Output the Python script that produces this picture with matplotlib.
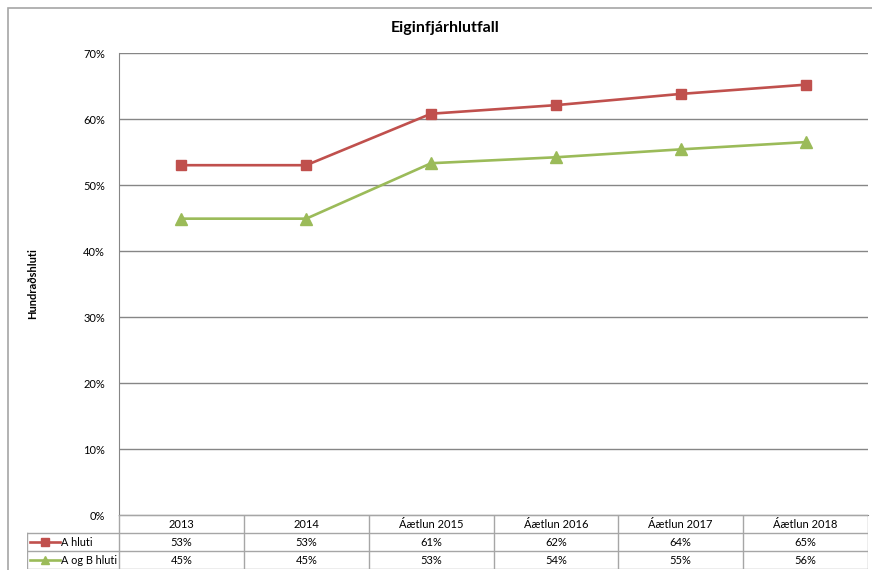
import numpy as np
import matplotlib.pyplot as plt
from matplotlib.patches import Rectangle

plt.rcParams['font.family'] = ['Lato', 'DejaVu Sans']

categories = ["2013", "2014", "Áætlun 2015", "Áætlun 2016", "Áætlun 2017", "Áætlun 2018"]
a_hluti = [53.0, 53.0, 60.8, 62.1, 63.8, 65.2]
a_og_b_hluti = [44.9, 44.9, 53.3, 54.2, 55.4, 56.5]
series_names = ["A hluti", "A og B hluti"]
yticks = [0, 10, 20, 30, 40, 50, 60, 70]

colors = {0: "#C0504D", 1: "#9BBB59"}
markers = {0: "s", 1: "^"}
grid_col = "#868686"

W, H = 872, 570
fig = plt.figure(figsize=(W / 100, H / 100), dpi=100)

# outer chart frame
fig.add_artist(Rectangle((8 / W, -0.1), 1.2, (H - 8) / H + 0.1, transform=fig.transFigure,
                         fill=False, edgecolor="#A6A6A6", linewidth=1.2))

x0, x1 = 119, 868
ytop, ybot = 53, 515
ax = fig.add_axes([x0 / W, (H - ybot) / H, (x1 - x0) / W, (ybot - ytop) / H])
x = np.arange(len(categories))
series = [a_hluti, a_og_b_hluti]
for i, vals in enumerate(series):
    ax.plot(x, vals, color=colors[i], linewidth=1.9, marker=markers[i],
            markersize=7.5 if i == 0 else 8, label=series_names[i])
ax.set_xlim(-0.5, len(categories) - 0.5)
ax.set_ylim(0, 70)
ax.set_yticks(yticks)
ax.set_yticklabels([f"{v}%" for v in yticks], fontsize=8)
ax.yaxis.grid(True, color=grid_col, linewidth=1)
ax.set_axisbelow(True)
ax.tick_params(axis="y", length=0, pad=10)
ax.tick_params(axis="x", length=0, labelbottom=False)
for s in ["top", "right"]:
    ax.spines[s].set_visible(False)
ax.spines["left"].set_color(grid_col)
ax.spines["bottom"].set_color(grid_col)
fig.text(445 / W, (H - 28) / H, "Eiginfjárhlutfall", fontsize=11.5, fontweight="bold",
         ha="center", va="center")
fig.text(33 / W, (H - (ytop + ybot) / 2) / H, "Hundraðshluti", rotation=90,
         fontsize=8, fontweight="bold", ha="center", va="center")

# data table below the plot
lab_x = 27
row_h = 18
col_w = (x1 - x0) / len(categories)
tab = fig.add_axes([lab_x / W, (H - ybot - 3 * row_h) / H, (x1 - lab_x) / W, 3 * row_h / H])
lab_w = (x0 - lab_x) / col_w
tab.set_xlim(-0.5 - lab_w, len(categories) - 0.5)
tab.set_ylim(3, 0)
tab.axis("off")
lc = "#A6A6A6"
tab.plot([-0.5, len(categories) - 0.5], [0, 0], color=lc, lw=1)
for r in [1, 2, 3]:
    tab.plot([-0.5 - lab_w, len(categories) - 0.5], [r, r], color=lc, lw=1)
tab.plot([-0.5 - lab_w, -0.5 - lab_w], [1, 3], color=lc, lw=1)
for c in range(len(categories) + 1):
    tab.plot([c - 0.5, c - 0.5], [0, 3], color=lc, lw=1)
for c, cat in enumerate(categories):
    tab.text(c, 0.5, cat, ha="center", va="center", fontsize=8)
    for i, vals in enumerate(series):
        tab.text(c, 1.5 + i, f"{round(vals[c])}%", ha="center", va="center", fontsize=8)
for i, name in enumerate(series_names):
    kx = -0.5 - lab_w + 3 / col_w
    kw = 30 / col_w
    tab.plot([kx, kx + kw], [1.5 + i, 1.5 + i], color=colors[i], lw=1.9)
    tab.plot([kx + kw / 2], [1.5 + i], marker=markers[i], color=colors[i], markersize=5.5)
    tab.text(kx + kw + 1 / col_w, 1.5 + i, name, ha="left", va="center", fontsize=7.8)

fig.savefig("out.png", dpi=100)
